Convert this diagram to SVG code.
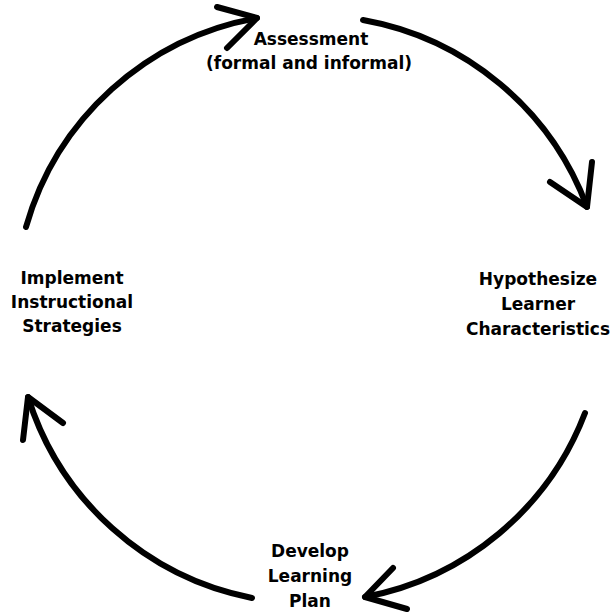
<svg xmlns="http://www.w3.org/2000/svg" width="612" height="612" viewBox="0 0 612 612">
<style>
.arc{fill:none;stroke:#000;stroke-width:6;stroke-linecap:round;stroke-linejoin:round}
.lbl{font-family:"DejaVu Sans","Liberation Sans",sans-serif;font-weight:bold;font-size:17px;fill:#000;text-anchor:middle}
</style>
<rect width="612" height="612" fill="#fff"/>
<g id="connectors">
<path class="arc" d="M26,227 A294,294 0 0 1 257,18"/>
<path class="arc" d="M217,7 L257,18 L227,48"/>
<path class="arc" d="M363,20 A294,294 0 0 1 587,207"/>
<path class="arc" d="M592,162 L587,207 L550,182"/>
<path class="arc" d="M585,413 A294,294 0 0 1 365,597"/>
<path class="arc" d="M393,568 L365,597 L407,609"/>
<path class="arc" d="M252,598 A294,294 0 0 1 28,397"/>
<path class="arc" d="M23,440 L28,397 L63,423"/>
</g>
<g id="assessment">
<text class="lbl" x="311" y="45">Assessment</text>
<text class="lbl" x="309" y="69">(formal and informal)</text>
</g>
<g id="hypothesize">
<text class="lbl" x="538" y="285">Hypothesize</text>
<text class="lbl" x="538" y="310">Learner</text>
<text class="lbl" x="538" y="335">Characteristics</text>
</g>
<g id="develop">
<text class="lbl" x="310" y="557">Develop</text>
<text class="lbl" x="310" y="582">Learning</text>
<text class="lbl" x="310" y="607">Plan</text>
</g>
<g id="implement">
<text class="lbl" x="72" y="284">Implement</text>
<text class="lbl" x="72" y="308">Instructional</text>
<text class="lbl" x="72" y="332">Strategies</text>
</g>
</svg>
